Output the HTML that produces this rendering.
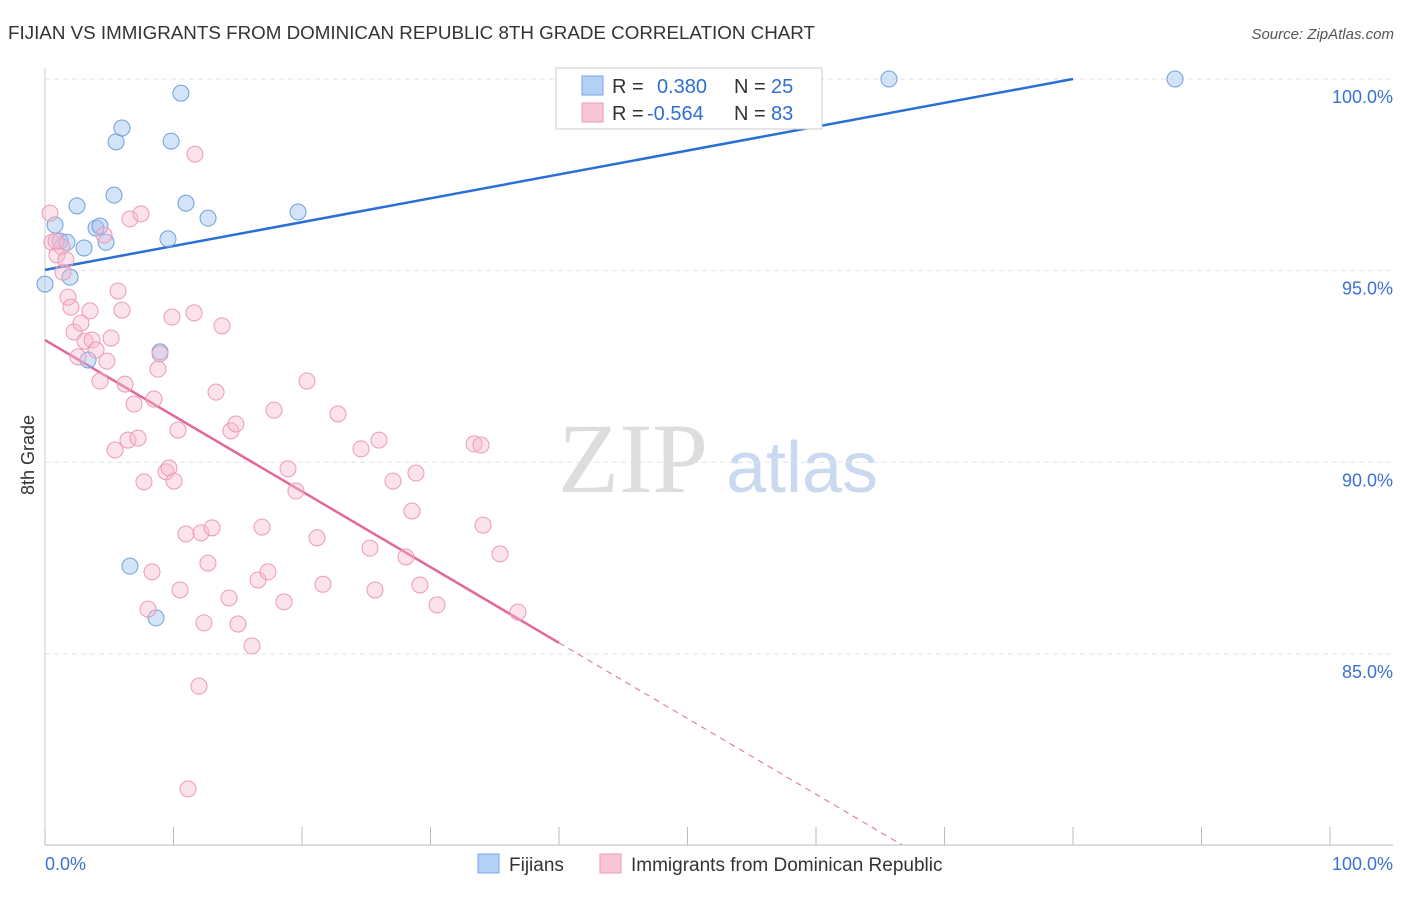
<!DOCTYPE html>
<html><head><meta charset="utf-8"><style>
body{margin:0;background:#fff;font-family:"Liberation Sans",sans-serif;}
svg text{font-family:"Liberation Sans",sans-serif;}
</style></head><body>
<svg id="chart" width="1406" height="892" xmlns="http://www.w3.org/2000/svg">
<text x="8" y="39" font-size="18" fill="#333" textLength="807" lengthAdjust="spacingAndGlyphs">FIJIAN VS IMMIGRANTS FROM DOMINICAN REPUBLIC 8TH GRADE CORRELATION CHART</text>
<text x="1394" y="39" font-size="15" fill="#555" text-anchor="end" font-style="italic">Source: ZipAtlas.com</text>
<text x="633" y="492" font-size="100" fill="#ddd" style="font-family:'Liberation Serif',serif" text-anchor="middle">ZIP</text>
<text x="802" y="492" font-size="72" fill="#c9daf0" text-anchor="middle">atlas</text>
<text x="34" y="455" font-size="18" fill="#333" text-anchor="middle" transform="rotate(-90 34 455)">8th Grade</text>
<g id="grid"></g><g id="trend"></g><g id="pts"></g>
<g>
<rect x="556" y="68" width="266" height="61" fill="#fff" stroke="#ccc"/>
<rect x="582" y="76" width="21" height="19" fill="#b5d0f5" stroke="#7aa6e6"/>
<rect x="582" y="103" width="21" height="19" fill="#f9c6d7" stroke="#ec9ab8"/>
<text x="612" y="93" font-size="20" fill="#333">R = </text><text x="657" y="93" font-size="20" fill="#2f6fcf">0.380</text>
<text x="734" y="93" font-size="20" fill="#333">N = </text><text x="771" y="93" font-size="20" fill="#2f6fcf">25</text>
<text x="612" y="120" font-size="20" fill="#333">R = </text><text x="647" y="120" font-size="20" fill="#2f6fcf">-0.564</text>
<text x="734" y="120" font-size="20" fill="#333">N = </text><text x="771" y="120" font-size="20" fill="#2f6fcf">83</text>
</g>
<g>
<rect x="478" y="854" width="21" height="19" fill="#b5d0f5" stroke="#7aa6e6"/>
<text x="509" y="871" font-size="19" fill="#333">Fijians</text>
<rect x="600" y="854" width="21" height="19" fill="#f9c6d7" stroke="#ec9ab8"/>
<text x="631" y="871" font-size="19" fill="#333">Immigrants from Dominican Republic</text>
</g>
</svg>
<script>
const yTicks=[85,90,95,100];
const yTickLabels=["85.0%","90.0%","95.0%","100.0%"];
const xTicks=[0,10,20,30,40,50,60,70,80,90,100];
const fijX=[0,0.78,1.17,1.71,1.95,2.49,3.04,3.35,3.97,4.28,4.75,5.37,5.53,5.99,6.61,8.64,8.95,9.57,9.81,10.58,10.97,12.69,19.69,65.68,87.94];
const fijY=[94.65,96.19,95.77,95.74,94.83,96.69,95.59,92.67,96.11,96.16,95.74,96.97,98.36,98.72,87.29,85.94,92.88,95.83,98.38,99.63,96.76,96.37,96.53,100,100];
const domX=[0.39,0.54,0.93,1.32,1.40,1.63,1.79,2.02,2.26,2.57,2.80,3.11,3.50,3.66,3.97,4.28,4.59,4.82,5.14,5.45,5.68,5.99,6.23,6.46,6.61,6.93,7.24,7.47,7.70,8.33,8.02,8.48,8.79,8.95,9.42,9.65,9.88,10.04,10.35,10.51,10.97,11.60,11.67,11.98,12.14,12.37,12.68,13.00,13.31,13.77,14.32,14.47,14.86,15.02,16.11,16.58,16.89,17.35,17.82,18.60,18.91,19.53,20.39,21.17,21.63,22.80,24.59,25.29,25.68,25.99,27.08,28.09,28.56,28.87,29.18,30.51,33.39,33.93,34.09,35.41,36.81,11.13,0.86];
const domY=[96.50,95.74,95.41,95.62,94.96,95.28,94.31,94.05,93.40,92.75,93.63,93.16,93.95,93.19,92.93,92.12,95.93,92.64,93.24,90.32,94.47,93.97,92.04,90.58,96.35,91.52,90.63,96.48,89.49,87.14,86.17,91.65,92.43,92.83,89.75,89.85,93.79,89.51,90.84,86.67,88.13,93.90,98.04,84.16,88.16,85.81,87.37,88.29,91.83,93.56,86.46,90.82,91.00,85.78,85.21,86.93,88.31,87.14,91.36,86.36,89.83,89.25,92.12,88.03,86.82,91.26,90.35,87.76,86.67,90.58,89.51,87.53,88.73,89.72,86.80,86.28,90.48,90.45,88.36,87.61,86.09,81.48,95.77];
const fijTrend=[95.02,100];   // at x=0, x=80
const domTrend=[93.19,85.29]; // at x=0, x=40
const NS="http://www.w3.org/2000/svg";
const X=v=>45+v*12.85, Y=v=>79+(100-v)*38.33;
function mk(t,a,p){const e=document.createElementNS(NS,t);for(const k in a)e.setAttribute(k,a[k]);p.appendChild(e);return e;}
const grid=document.getElementById('grid');
yTicks.forEach((t,i)=>{
 const l=mk('line',{x1:45,x2:1393,y1:Y(t),y2:Y(t),stroke:'#e2e2e2','stroke-dasharray':'5,4'},grid);
 
 
 const tx=mk('text',{x:1393,y:Y(t)+24,'font-size':18,fill:'#3a72d0','text-anchor':'end'},grid);
 tx.textContent=yTickLabels[i];
 
 
});
const ax=mk('line',{x1:45,x2:1393,y1:845,y2:845,stroke:'#bbb'},grid);


const ay=mk('line',{x1:45,x2:45,y1:68,y2:845,stroke:'#ccc'},grid);


xTicks.forEach(t=>{const l=mk('line',{x1:X(t),x2:X(t),y1:827,y2:845,stroke:'#bbb'},grid);
 
 });
const xl0=mk('text',{x:45,y:870,'font-size':18,fill:'#3a72d0'},grid);xl0.textContent='0.0%';


const xl1=mk('text',{x:1393,y:870,'font-size':18,fill:'#3a72d0','text-anchor':'end'},grid);xl1.textContent='100.0%';


const pts=document.getElementById('pts');
fijX.forEach((x,i)=>{const c=mk('circle',{cx:X(x),cy:Y(fijY[i]),r:8,fill:'rgba(160,195,240,0.45)',stroke:'#6f9fe0','stroke-width':1},pts);
 
 });
domX.forEach((x,i)=>{const c=mk('circle',{cx:X(x),cy:Y(domY[i]),r:8,fill:'rgba(248,185,205,0.4)',stroke:'#ec9ab8','stroke-width':1},pts);
 
 });
const tr=document.getElementById('trend');
const bl=mk('line',{x1:X(0),y1:Y(fijTrend[0]),x2:X(80),y2:Y(fijTrend[1]),stroke:'#2a6fd6','stroke-width':2.5},tr);


const slope=(domTrend[1]-domTrend[0])/40;
const pl=mk('line',{x1:X(0),y1:Y(domTrend[0]),x2:X(40),y2:Y(domTrend[1]),stroke:'#e2679a','stroke-width':2.5},tr);


const yEnd=100-(845-79)/38.33;
const xe=(yEnd-domTrend[0])/slope;
const pd=mk('line',{x1:X(40),y1:Y(domTrend[1]),x2:X(xe),y2:Y(yEnd),stroke:'#e2679a','stroke-width':1,'stroke-dasharray':'6,5'},tr);


</script>
</body></html>
